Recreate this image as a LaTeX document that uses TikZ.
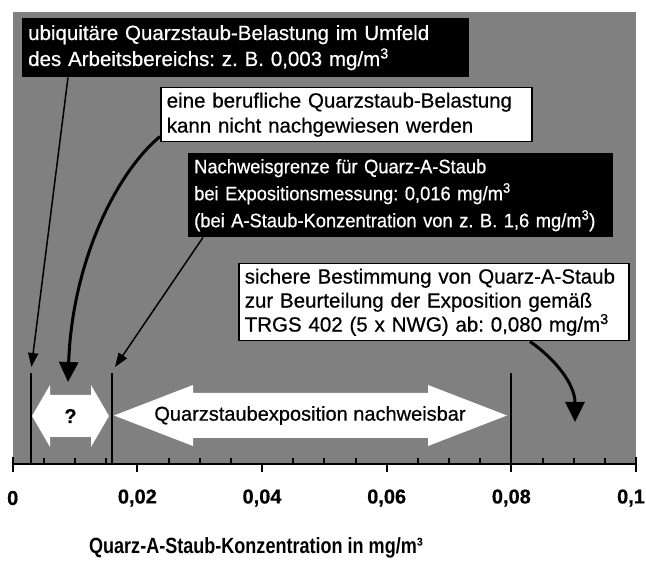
\documentclass[tikz,border=0pt]{standalone}
\usepackage{fontspec}
\setmainfont{Liberation Sans}[FakeBold=0.6]
\newfontfamily\qsnarrow{Liberation Sans}[FakeStretch=0.82]
\newfontfamily\qstight{Liberation Sans}[FakeStretch=0.94,FakeBold=0.6]
\usetikzlibrary{arrows.meta,positioning,calc}
\definecolor{QsGray}{RGB}{128,128,128}
\definecolor{QsInk}{RGB}{0,0,0}
\tikzset{
  qs/darkbox/.style={
    fill=QsInk,
    text=white,
    align=left,
    anchor=north west,
    inner xsep=6pt,
    inner ysep=0pt,
    font=\frenchspacing\fontsize{20.5}{26}\selectfont
  },
  qs/lightbox/.style={
    draw=QsInk,
    line width=1.5pt,
    fill=white,
    text=QsInk,
    align=left,
    anchor=north west,
    inner xsep=6pt,
    inner ysep=0pt,
    font=\frenchspacing\fontsize{20.5}{25}\selectfont
  },
  qs/pointer/.style={-{Triangle[length=14pt,width=10pt]}, line width=1.5pt, draw=QsInk},
  qs/boldpointer/.style={-{Triangle[length=20pt,width=19pt]}, line width=3pt, draw=QsInk},
  qs/limit/.style={line width=2pt, draw=QsInk},
  qs/axis/.style={line width=2pt, draw=QsInk},
  qs/band/.style={fill=white},
  qs/bandlabel/.style={font=\fontsize{20}{24}\selectfont, text=QsInk},
  qs/ticklabel/.style={font=\bfseries\fontsize{20}{24}\selectfont, text=QsInk},
  qs/title/.style={font=\qsnarrow\bfseries\fontsize{22}{26}\selectfont, text=QsInk}
}

\begin{document}
\begin{tikzpicture}[x=1pt,y=1pt]
  \useasboundingbox (0,0) rectangle (646,564);
  \fill[QsGray] (12.7,100) rectangle (635.5,552);

  % text boxes
  \node[qs/darkbox, text width=435pt, minimum height=59pt] (ubiq) at (22,546)
    {ubiquitäre Quarzstaub-Belastung im Umfeld\\des Arbeitsbereichs: z. B. 0,003 mg/m\textsuperscript{3}};
  \node[qs/lightbox, text width=359pt, minimum height=54pt] (beruf) at (160,477)
    {eine berufliche Quarzstaub-Belastung\\kann nicht nachgewiesen werden};
  \node[qs/darkbox, text width=413pt, minimum height=84pt, font=\frenchspacing\qstight\fontsize{19.5}{27}\selectfont] (nwg) at (188,411)
    {Nachweisgrenze für Quarz-A-Staub\\bei Expositionsmessung: 0,016 mg/m\textsuperscript{3}\\(bei A-Staub-Konzentration von z. B. 1,6 mg/m\textsuperscript{3})};
  \node[qs/lightbox, text width=378pt, minimum height=77pt, font=\frenchspacing\fontsize{20.5}{24}\selectfont] (trgs) at (238,301)
    {sichere Bestimmung von Quarz-A-Staub\\zur Beurteilung der Exposition gemäß\\TRGS 402 (5 x NWG) ab: 0,080 mg/m\textsuperscript{3}};

  % limits on the axis
  \coordinate (lim1) at (31.4,100);
  \coordinate (lim2) at (112.4,100);
  \coordinate (lim3) at (511.3,100);
  \foreach \l in {lim1,lim2,lim3}{
    \draw[qs/limit] (\l) -- ++(0,91);
  }

  % ranges
  \fill[qs/band] (32,148) -- (50,179) -- (50,169) -- (91,169) -- (91,179) -- (109,148)
    -- (91,117) -- (91,127) -- (50,127) -- (50,117) -- cycle;
  \node[qs/bandlabel, font=\bfseries\fontsize{20}{24}\selectfont] (unknown) at (70.5,148) {?};
  \fill[qs/band] (114,148.5) -- (193,179) -- (193,171) -- (428,171) -- (428,179) -- (507,148.5)
    -- (428,118) -- (428,126) -- (193,126) -- (193,118) -- cycle;
  \node[qs/bandlabel] (proven) at (310,148.5) {Quarzstaubexposition nachweisbar};

  % pointers
  \coordinate (tipA) at (31.4,197);
  \coordinate (tipB) at (68,182);
  \coordinate (tipC) at (115,197);
  \coordinate (tipD) at (575,142);
  \draw[qs/pointer] ([xshift=46pt]ubiq.south west) -- (tipA);
  \draw[qs/boldpointer] ([yshift=6pt]beruf.south west) .. controls (115,390) and (72,300) .. (tipB);
  \draw[qs/pointer] ([xshift=15pt]nwg.south west) -- (tipC);
  \draw[qs/boldpointer] ([xshift=292pt]trgs.south west) .. controls (555,205) and (575,180) .. (tipD);

  % axis
  \draw[qs/axis] (12.7,100) -- (635.5,100);
  \foreach \i in {1,2,3,5,6,7,9,10,11,13,14,15,17,18,19}{
    \draw[qs/axis] (12.7+31.165*\i,100) -- ++(0,6);
  }
  \foreach \i in {1,...,4}{
    \draw[qs/axis] (12.7+124.66*\i,100) -- ++(0,-8);
  }
  \draw[qs/axis] (12.7,107) -- (12.7,92);
  \draw[qs/axis] (635.5,107) -- (635.5,92);
  \foreach \i/\t in {0/0,1/{0,02},2/{0,04},3/{0,06},4/{0,08}}{
    \node[qs/ticklabel] (tick\i) at (12.7+124.66*\i,66) {\t};
  }
  \node[qs/ticklabel] (tick5) at (631,66) {0,1};
  \node[qs/title] (axistitle) at (256,16) {Quarz-A-Staub-Konzentration in mg/m³};
\end{tikzpicture}
\end{document}
